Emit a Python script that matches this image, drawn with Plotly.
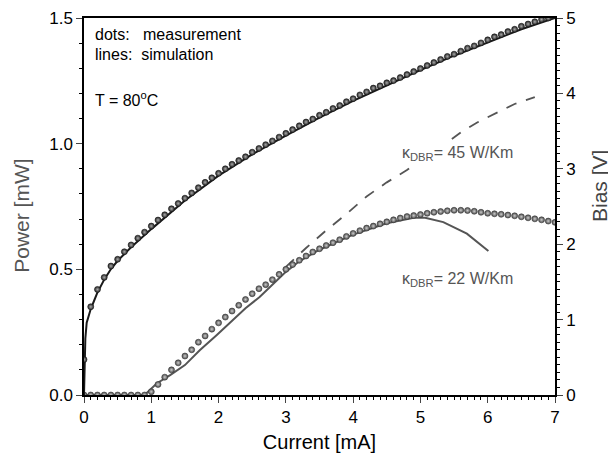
import plotly.graph_objects as go

# measured data: dots every 0.1 mA
current_meas = [round(i * 0.1, 1) for i in range(71)]

bias_meas = [0.47, 1.17, 1.40, 1.56, 1.71, 1.80, 1.90, 1.99, 2.08, 2.16,
             2.24, 2.32, 2.39, 2.47, 2.54, 2.61, 2.68, 2.75, 2.82, 2.88,
             2.94, 3.00, 3.06, 3.11, 3.16, 3.22, 3.27, 3.32, 3.37, 3.42,
             3.47, 3.52, 3.57, 3.62, 3.66, 3.71, 3.75, 3.80, 3.84, 3.89,
             3.93, 3.98, 4.02, 4.07, 4.10, 4.14, 4.17, 4.21, 4.25, 4.29,
             4.33, 4.37, 4.41, 4.45, 4.49, 4.52, 4.56, 4.60, 4.63, 4.67,
             4.71, 4.75, 4.78, 4.82, 4.85, 4.89, 4.92, 4.95, 4.98, 5.00,
             5.02]

power_meas = [0, 0, 0, 0, 0, 0, 0, 0, 0, 0,
              0.013, 0.042, 0.071, 0.100, 0.128, 0.155, 0.180, 0.210, 0.235, 0.262,
              0.287, 0.310, 0.334, 0.357, 0.380, 0.403, 0.423, 0.439, 0.459, 0.480,
              0.500, 0.519, 0.536, 0.553, 0.569, 0.582, 0.595, 0.606, 0.618, 0.631,
              0.643, 0.654, 0.664, 0.672, 0.681, 0.689, 0.697, 0.704, 0.710, 0.714,
              0.718, 0.723, 0.727, 0.730, 0.733, 0.735, 0.735, 0.734, 0.731, 0.727,
              0.723, 0.721, 0.719, 0.716, 0.713, 0.709, 0.705, 0.701, 0.697, 0.692,
              0.687]

# simulation curves
current_bias_sim = [0, 0.01, 0.02, 0.04, 0.07, 0.1, 0.15, 0.2, 0.3, 0.4, 0.5, 0.7,
                    1.0, 1.5, 2.0, 2.5, 3.0, 3.5, 4.0, 4.5, 5.0, 5.5, 6.0, 6.5, 7.0]
bias_sim = [0, 0.50, 0.75, 0.96, 1.07, 1.14, 1.25, 1.36, 1.53, 1.67, 1.78, 1.96,
            2.20, 2.58, 2.91, 3.19, 3.44, 3.68, 3.90, 4.11, 4.31, 4.50, 4.68, 4.85, 5.0]

current_p22 = [0, 0.9, 1.08, 1.28, 1.5, 1.72, 1.97, 2.21, 2.4, 2.61, 2.8, 3.0,
               3.2, 3.5, 4.0, 4.5, 4.9, 5.07, 5.34, 5.69, 6.01]
power_p22 = [0, 0, 0.046, 0.079, 0.119, 0.178, 0.238, 0.298, 0.345, 0.390, 0.440, 0.490,
             0.532, 0.578, 0.638, 0.683, 0.705, 0.705, 0.688, 0.642, 0.573]

current_p45 = [3.0, 3.3, 3.6, 3.9, 4.2, 4.5, 4.8, 5.1, 5.4, 5.6, 5.85, 6.2, 6.4, 6.7]
power_p45 = [0.51, 0.585, 0.655, 0.72, 0.79, 0.846, 0.895, 0.955, 1.005, 1.045,
             1.085, 1.131, 1.158, 1.185]

FONT = "Liberation Sans, Arial, sans-serif"

fig = go.Figure()

fig.add_trace(go.Scatter(x=current_p22, y=power_p22, mode="lines",
                         line=dict(color="#555555", width=2), showlegend=False))
fig.add_trace(go.Scatter(x=current_p45, y=power_p45, mode="lines",
                         line=dict(color="#555555", width=1.8, dash="11px,10px"),
                         showlegend=False))
fig.add_trace(go.Scatter(x=current_meas, y=power_meas, mode="markers",
                         marker=dict(size=6, color="#4a4a4a",
                                     gradient=dict(type="radial", color="#cccccc"),
                                     line=dict(color="#3a3a3a", width=0.6)),
                         showlegend=False))

fig.add_trace(go.Scatter(x=current_bias_sim, y=bias_sim, mode="lines", yaxis="y2",
                         line=dict(color="#1a1a1a", width=2), showlegend=False))
fig.add_trace(go.Scatter(x=current_meas[:70], y=bias_meas[:70], mode="markers", yaxis="y2",
                         marker=dict(size=6, color="#222222",
                                     gradient=dict(type="radial", color="#aaaaaa"),
                                     line=dict(color="#1a1a1a", width=0.6)),
                         showlegend=False))

# page has an 8px body margin, so the figure is shrunk by that much
fig.update_layout(
    width=608, height=454,
    margin=dict(l=76, r=61, t=10, b=67, autoexpand=False),
    paper_bgcolor="white", plot_bgcolor="white",
    font=dict(family=FONT, size=17, color="black"),
    xaxis=dict(range=[0, 7], dtick=1, ticks="outside", ticklen=6, tickwidth=1.2,
               showline=True, linecolor="black", linewidth=1.5, mirror=True,
               showgrid=False, zeroline=False, automargin=False,
               minor=dict(dtick=0.1, ticks="outside", ticklen=3, tickcolor="black"),
               title=dict(text="Current [mA]", font=dict(size=20), standoff=9)),
    yaxis=dict(range=[0, 1.5], dtick=0.5, tickformat=".1f", ticks="outside",
               ticklen=6, tickwidth=1.2, showline=True, linecolor="black", linewidth=1.5,
               showgrid=False, zeroline=False, automargin=False, ticklabeloverflow="allow",
               minor=dict(dtick=0.1, ticks="outside", ticklen=3, tickcolor="black")),
    yaxis2=dict(range=[0, 5], dtick=1, overlaying="y", side="right", ticks="outside",
                ticklen=6, tickwidth=1.2, showline=True, linecolor="black", linewidth=1.5,
                showgrid=False, zeroline=False, automargin=False, ticklabeloverflow="allow",
                minor=dict(dtick=0.1, ticks="outside", ticklen=3, tickcolor="black")),
)

# axis titles placed by hand (they sit off-centre in the original)
fig.add_annotation(text="Power [mW]", x=-0.132, y=0.475, xref="paper", yref="paper",
                   textangle=-90, showarrow=False, xanchor="center", yanchor="middle",
                   font=dict(size=21, color="#555555"))
fig.add_annotation(text="Bias [V]", x=1.096, y=0.555, xref="paper", yref="paper",
                   textangle=-90, showarrow=False, xanchor="center", yanchor="middle",
                   font=dict(size=21, color="#444444"))

notes = [
    ("dots:\u00a0\u00a0\u00a0measurement", 0.019, 0.955),
    ("lines:\u00a0\u00a0simulation", 0.019, 0.903),
    ("T = 80<sup>o</sup>C", 0.019, 0.785),
]
for txt, x, y in notes:
    fig.add_annotation(text=txt, x=x, y=y, xref="paper", yref="paper",
                       xanchor="left", yanchor="middle", showarrow=False,
                       font=dict(size=16, color="black"))

fig.add_annotation(text="κ<sub>DBR</sub>= 45 W/Km", x=4.7, y=0.96, xref="x", yref="y",
                   xanchor="left", yanchor="middle", showarrow=False,
                   bgcolor="white", font=dict(size=16, color="#555555"))
fig.add_annotation(text="κ<sub>DBR</sub>= 22 W/Km", x=4.7, y=0.46, xref="x", yref="y",
                   xanchor="left", yanchor="middle", showarrow=False,
                   font=dict(size=16, color="#555555"))

fig.write_html("out.html")
